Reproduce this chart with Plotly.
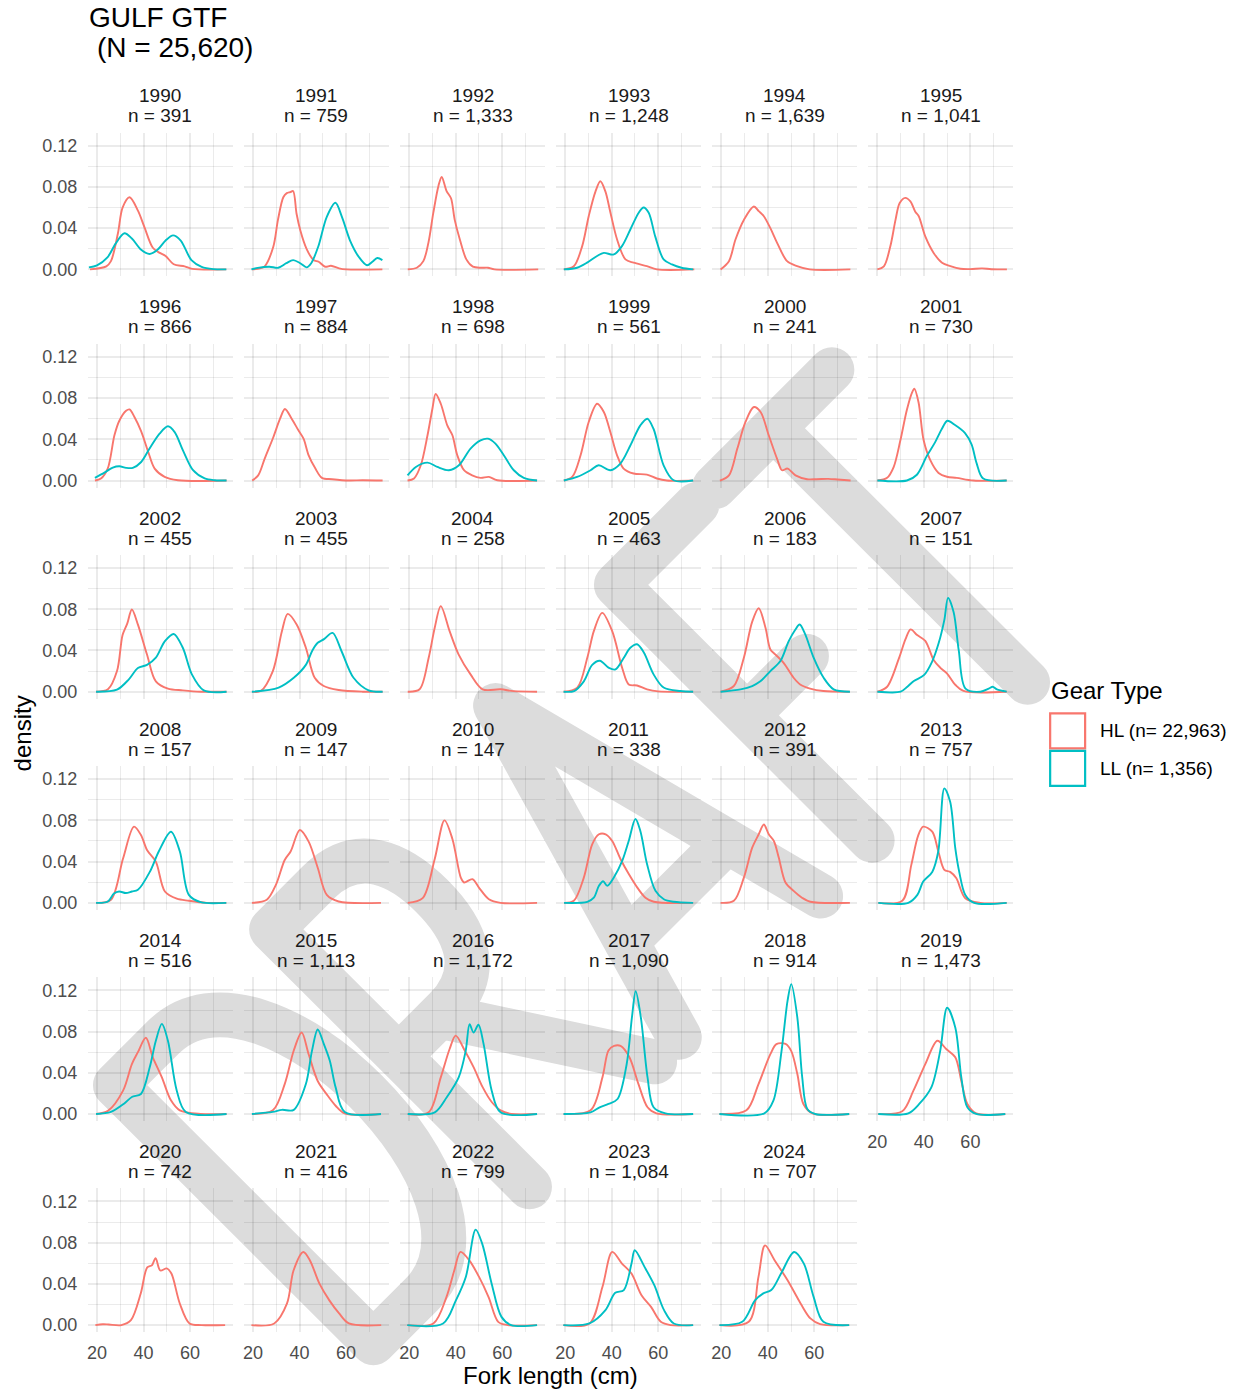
import base64
import plotly.graph_objects as go

# ---------------- data ----------------
YEARS = list(range(1990, 2025))
N_COUNTS = [391, 759, 1333, 1248, 1639, 1041, 866, 884, 698, 561, 241, 730,
            455, 455, 258, 463, 183, 151, 157, 147, 147, 338, 391, 757,
            516, 1113, 1172, 1090, 914, 1473, 742, 416, 799, 1084, 707]

GEAR_LABELS = ["HL (n= 22,963)", "LL (n= 1,356)"]
X_TICKS = [20, 40, 60]
Y_TICKS = [0.00, 0.04, 0.08, 0.12]

# density curves: (fork length cm, density)
HL_CURVES = {
    1990: [(17, 0), (24, 0.003), (26, 0.008), (29, 0.035), (31, 0.060), (34, 0.070), (37.6, 0.057), (40.4, 0.041), (44, 0.021), (47, 0.016), (49.5, 0.013), (53, 0.005), (57.7, 0.003), (61, 0.0005), (75.6, 0)],
    1991: [(19.5, 0), (23, 0.001), (25, 0.003), (28.7, 0.022), (30.7, 0.048), (33, 0.070), (34.5, 0.074), (36, 0.075), (37.2, 0.076), (38.7, 0.054), (40.3, 0.038), (43, 0.020), (46, 0.009), (48.2, 0.0074), (51, 0.0026), (53.5, 0.0035), (57, 0.001), (60, 0.0), (75.6, 0.0)],
    1992: [(19.4, 0), (23.3, 0.0016), (26.1, 0.008), (28.3, 0.026), (30.4, 0.055), (32.6, 0.081), (34, 0.0897), (36.1, 0.076), (38, 0.069), (39.6, 0.048), (41.8, 0.029), (44.6, 0.0097), (47.4, 0.0026), (51, 0.0016), (53.9, 0.0016), (56.7, 0), (75.5, 0)],
    1993: [(19.4, 0), (23.7, 0.003), (27.3, 0.0226), (30.1, 0.0516), (33, 0.0755), (35.1, 0.0855), (37.3, 0.0755), (39.4, 0.0555), (42.3, 0.029), (45.9, 0.0097), (49.4, 0.0065), (55.1, 0.0032), (59.4, 0), (75.5, 0)],
    1994: [(19.7, 0), (23.3, 0.008), (26.1, 0.029), (29.7, 0.048), (34, 0.061), (36.1, 0.0565), (38.3, 0.0516), (41.1, 0.040), (44, 0.0258), (48.3, 0.008), (52.6, 0.0032), (58, 0), (75.5, 0)],
    1995: [(20, 0), (22.8, 0.003), (25.6, 0.0226), (27.8, 0.048), (29.6, 0.0645), (32, 0.0694), (34.2, 0.066), (36.3, 0.056), (37.8, 0.0516), (40.6, 0.032), (44.2, 0.016), (47.8, 0.0065), (51.4, 0.0032), (55.7, 0.0006), (60, 0.0003), (65, 0.001), (69, 0.0002), (75.7, 0)],
    1996: [(19.1, 0), (21.7, 0.002), (24.6, 0.0116), (27.5, 0.0439), (29.6, 0.058), (32.5, 0.0677), (34, 0.069), (36.1, 0.0616), (39, 0.0477), (41.9, 0.0287), (44.8, 0.0116), (49.1, 0.0036), (54.8, 0.0003), (75.7, 0)],
    1997: [(19.6, 0), (22.2, 0.005), (25, 0.0213), (28.7, 0.042), (31.6, 0.060), (33.7, 0.0694), (36.6, 0.060), (39.5, 0.0487), (41.7, 0.0406), (43.9, 0.0245), (46.8, 0.0116), (49.6, 0.0026), (54, 0.0013), (61.3, 0), (67, 0.0003), (75.7, 0)],
    1998: [(19.3, 0), (22.1, 0.002), (25, 0.0148), (27.9, 0.0439), (30, 0.0697), (31.4, 0.084), (33.6, 0.0745), (36.4, 0.0535), (38.6, 0.0439), (40.7, 0.0245), (43.6, 0.010), (47.1, 0.005), (50.7, 0.0026), (54.3, 0.0035), (57.9, 0.0003), (75, 0)],
    1999: [(19.4, 0), (23, 0.0035), (26.6, 0.0245), (30.1, 0.0568), (33.7, 0.0745), (36.6, 0.0665), (39.4, 0.047), (42.3, 0.0245), (45.1, 0.0116), (49.4, 0.0068), (55.1, 0.0058), (59.4, 0.002), (63.7, 0), (75, 0)],
    2000: [(19.4, 0), (23.3, 0.005), (26.9, 0.031), (30.4, 0.0568), (34, 0.0713), (36.9, 0.0665), (40.4, 0.0439), (44, 0.021), (46.1, 0.010), (48.5, 0.0116), (51.9, 0.005), (56.9, 0.0013), (61, 0.0013), (66, 0.0016), (70, 0.001), (75.6, 0)],
    2001: [(20, 0), (24.2, 0.0026), (27, 0.013), (29.9, 0.039), (32.7, 0.0686), (34.9, 0.0853), (35.9, 0.089), (37.7, 0.076), (39.9, 0.039), (42.7, 0.020), (46.3, 0.0074), (49.9, 0.0037), (54.1, 0.0026), (61.3, 0), (75.6, 0)],
    2002: [(19.6, 0), (24.7, 0.0023), (28.6, 0.020), (31, 0.055), (33, 0.066), (35, 0.0797), (37.6, 0.065), (41.5, 0.036), (45.3, 0.010), (50.5, 0.003), (56.9, 0.0013), (64.6, 0), (75.7, 0)],
    2003: [(19.5, 0), (23.3, 0.0006), (28.5, 0.020), (32.4, 0.0587), (34.9, 0.0755), (38.8, 0.065), (42.7, 0.0426), (46.5, 0.0135), (50.4, 0.0055), (56.8, 0.0016), (67, 0), (75.7, 0)],
    2004: [(19.4, 0), (24.5, 0.0023), (28.4, 0.033), (31, 0.062), (33.6, 0.083), (37.4, 0.0587), (41.3, 0.036), (46.4, 0.0168), (51.6, 0.0023), (59.3, 0.0023), (65, 0.0005), (75, 0)],
    2005: [(19.3, 0), (25.2, 0.004), (29.5, 0.033), (32.3, 0.0587), (35.9, 0.0765), (40.2, 0.0587), (44.5, 0.023), (47.3, 0.007), (50.9, 0.006), (55.2, 0.0023), (60, 0.0003), (75, 0)],
    2006: [(19.7, 0), (25.4, 0.0055), (29.7, 0.033), (33.3, 0.068), (36.1, 0.081), (39, 0.062), (41.1, 0.041), (43.3, 0.036), (46.8, 0.028), (51.1, 0.0135), (53.9, 0.007), (58.2, 0.003), (63.9, 0.0006), (75.3, 0)],
    2007: [(20, 0), (24.2, 0.0048), (29.3, 0.0326), (32.1, 0.051), (34.3, 0.0604), (37.1, 0.0549), (40.6, 0.0493), (44.2, 0.0308), (47, 0.0234), (49.9, 0.0178), (53.5, 0.0067), (57, 0.0007), (75.6, 0)],
    2008: [(19.6, 0), (26, 0.003), (31.2, 0.043), (35.9, 0.0739), (38.9, 0.0658), (41.5, 0.0513), (45.3, 0.040), (49.2, 0.011), (54.3, 0.004), (59.5, 0.002), (67.2, 0), (75.6, 0)],
    2009: [(19.5, 0), (25.9, 0.003), (29.8, 0.0174), (33.6, 0.0416), (36.2, 0.050), (40.1, 0.0706), (43.9, 0.0594), (47.8, 0.034), (51.7, 0.0077), (56.8, 0.0013), (75, 0)],
    2010: [(19.4, 0), (25.8, 0.0045), (31, 0.0426), (35.2, 0.080), (38.6, 0.062), (42.2, 0.0245), (43.6, 0.0197), (47.2, 0.023), (50, 0.0148), (54.3, 0.0035), (59.3, 0), (75, 0)],
    2011: [(19.5, 0), (23.7, 0.002), (28, 0.0245), (31.6, 0.0568), (34.5, 0.0665), (37.4, 0.0665), (40.2, 0.060), (43.8, 0.0423), (47.4, 0.0277), (51, 0.0148), (54.5, 0.005), (58.1, 0.001), (75, 0)],
    2012: [(19.7, 0), (25.4, 0.002), (29.7, 0.0245), (33.3, 0.0535), (36.1, 0.0665), (38.3, 0.076), (40.4, 0.0665), (42.6, 0.060), (44.7, 0.0439), (47.6, 0.0197), (51.1, 0.0116), (54.7, 0.005), (58.3, 0.001), (75.3, 0)],
    2013: [(20.4, 0), (30.7, 0.002), (34.6, 0.0368), (37.5, 0.065), (39.7, 0.0739), (43.6, 0.069), (46.2, 0.050), (48.8, 0.032), (51.3, 0.030), (53.9, 0.024), (57.8, 0.0045), (64.2, 0), (75.6, 0)],
    2014: [(19.6, 0), (24.7, 0.003), (31.2, 0.0226), (35, 0.0484), (37.6, 0.060), (41, 0.0739), (44, 0.055), (47.9, 0.0355), (51.8, 0.0132), (55.6, 0.0035), (64.6, 0), (75.7, 0)],
    2015: [(19.5, 0), (28.5, 0.0035), (33.6, 0.029), (37.5, 0.0616), (40.9, 0.079), (43.9, 0.058), (47.8, 0.032), (51.7, 0.019), (55.5, 0.008), (59.4, 0.0006), (75, 0)],
    2016: [(19.4, 0), (28.4, 0.0016), (33.6, 0.0355), (37.4, 0.063), (40, 0.076), (43.9, 0.0616), (47.7, 0.0455), (51.6, 0.026), (55.5, 0.0116), (59.3, 0.0035), (64, 0), (75, 0)],
    2017: [(19.3, 0), (30.9, 0.0035), (36, 0.0355), (38.6, 0.0616), (41, 0.066), (43.8, 0.066), (47.6, 0.055), (51.5, 0.029), (55.4, 0.0065), (59.2, 0.0006), (75, 0)],
    2018: [(19.2, 0), (30.8, 0.0035), (36, 0.029), (41.1, 0.058), (43.7, 0.0677), (47.6, 0.068), (50.1, 0.061), (52.7, 0.0387), (55.3, 0.0097), (59.2, 0.0006), (75, 0)],
    2019: [(20.4, 0), (30.7, 0.0026), (35.5, 0.0226), (40.6, 0.0484), (45.8, 0.071), (49.6, 0.063), (53.5, 0.055), (56.1, 0.032), (58.7, 0.0097), (62.5, 0.0006), (75, 0)],
    2020: [(19.3, 0), (22.5, 0.0008), (25, 0.0006), (30.5, 0), (34.6, 0.0048), (38.8, 0.0306), (41.6, 0.056), (43.6, 0.058), (45.2, 0.065), (47.2, 0.053), (50, 0.055), (52, 0.050), (55.6, 0.021), (59.8, 0.0016), (65, 0), (75.1, 0)],
    2021: [(19.3, 0), (29.1, 0.0016), (34.6, 0.021), (37.4, 0.053), (41.6, 0.071), (44.4, 0.063), (48.6, 0.040), (52.8, 0.024), (57, 0.0113), (61.2, 0.0016), (75.1, 0)],
    2022: [(19.2, 0), (30.4, 0.0016), (36, 0.027), (39.4, 0.053), (42.1, 0.071), (45.8, 0.063), (50, 0.047), (54.2, 0.027), (58.3, 0.0032), (62.5, 0), (75, 0)],
    2023: [(19.2, 0), (30.4, 0.0016), (36, 0.037), (40.2, 0.071), (44.3, 0.060), (48.5, 0.050), (52.8, 0.029), (56.9, 0.0177), (61.1, 0.0032), (65.3, 0), (75, 0)],
    2024: [(19.2, 0), (31.8, 0.0032), (36, 0.047), (38.8, 0.0774), (42.9, 0.063), (48.5, 0.0435), (54.1, 0.021), (58.3, 0.0065), (62.5, 0.001), (75, 0)],
}

LL_CURVES = {
    1990: [(16.5, 0.002), (20, 0.004), (24.6, 0.012), (28, 0.025), (31.8, 0.035), (35, 0.030), (39, 0.019), (42.6, 0.015), (46, 0.019), (49.5, 0.028), (52.7, 0.033), (56, 0.028), (60.6, 0.009), (65, 0.0025), (70, 0.0003), (75.6, 0)],
    1991: [(19.3, 0), (22, 0.0015), (27, 0.0026), (30.8, 0.0016), (34.3, 0.006), (37.2, 0.009), (40.3, 0.006), (43, 0.002), (45, 0.006), (48, 0.022), (51.7, 0.051), (55.4, 0.0646), (58.2, 0.051), (61.7, 0.028), (65.5, 0.012), (69, 0.004), (71.3, 0.0074), (73.4, 0.011), (75.6, 0.009)],
    1993: [(19.4, 0), (25.1, 0.0016), (29.4, 0.0065), (33.7, 0.013), (36.6, 0.016), (40.9, 0.0145), (44.4, 0.0226), (48, 0.0387), (51.6, 0.055), (53.7, 0.060), (55.9, 0.055), (58.7, 0.032), (62.3, 0.0097), (65.9, 0.0048), (70, 0.0016), (75, 0)],
    1996: [(19.1, 0.0026), (23.2, 0.0077), (26.8, 0.0126), (29.6, 0.0139), (32.5, 0.0123), (35.4, 0.0123), (39, 0.018), (42.6, 0.031), (46.9, 0.0455), (50.5, 0.0526), (53.4, 0.047), (57, 0.029), (61.3, 0.010), (66.3, 0.002), (70.7, 0.0003), (75.7, 0)],
    1998: [(19.3, 0.005), (22.9, 0.0132), (27.9, 0.0174), (32.1, 0.0132), (37.1, 0.010), (41.4, 0.0148), (46.4, 0.031), (50.7, 0.039), (53.9, 0.0406), (57.1, 0.0358), (60.7, 0.0245), (65, 0.010), (69.3, 0.0026), (75, 0)],
    1999: [(19.4, 0), (25.1, 0.0035), (30.9, 0.010), (34.4, 0.0148), (39.4, 0.010), (43.7, 0.0165), (48, 0.034), (52.3, 0.0535), (55.3, 0.060), (58, 0.050), (62.3, 0.0148), (66.6, 0.0003), (75, 0)],
    2001: [(20, 0), (32.7, 0), (37, 0.0056), (41.3, 0.024), (44.8, 0.037), (47.7, 0.050), (50.1, 0.058), (53.4, 0.0538), (57.7, 0.046), (60.5, 0.035), (62.7, 0.0167), (65.5, 0.0019), (75.6, 0)],
    2002: [(19.6, 0), (28.6, 0.002), (33.7, 0.012), (37.6, 0.023), (41.5, 0.026), (45.3, 0.033), (49.2, 0.049), (53, 0.056), (56.9, 0.0426), (60.8, 0.0168), (65.9, 0.0013), (75.7, 0)],
    2003: [(19.5, 0), (31, 0.004), (37.5, 0.0135), (42.7, 0.026), (45.5, 0.040), (47.8, 0.0474), (50.5, 0.051), (54.2, 0.057), (58.1, 0.039), (63.2, 0.0135), (69.7, 0.0013), (75.7, 0)],
    2005: [(19.3, 0), (23.8, 0.0006), (28, 0.010), (31.6, 0.026), (34.9, 0.030), (38.8, 0.023), (41.6, 0.0216), (45.2, 0.033), (48, 0.0426), (50.9, 0.046), (53.8, 0.038), (58, 0.0168), (62.3, 0.004), (69.5, 0.0006), (75, 0)],
    2006: [(19.7, 0), (28.3, 0.0023), (33.3, 0.0055), (36.8, 0.010), (41.1, 0.020), (45.4, 0.0297), (49, 0.049), (51.8, 0.060), (53.7, 0.0652), (56.1, 0.0555), (59.7, 0.033), (64, 0.0135), (68.3, 0.0023), (75.3, 0)],
    2007: [(20, 0), (30, 0), (32.9, 0.0048), (35.7, 0.0104), (40, 0.016), (43.5, 0.029), (46.4, 0.0474), (48.8, 0.0697), (50.4, 0.091), (52.8, 0.077), (55, 0.040), (57.9, 0.003), (64.3, 0), (67.9, 0.003), (69.6, 0.0048), (71.4, 0.0022), (75.6, 0)],
    2008: [(19.6, 0), (24.7, 0.0013), (27.3, 0.009), (29.5, 0.011), (32.4, 0.0095), (35, 0.011), (37.6, 0.0126), (42.7, 0.030), (46.6, 0.050), (51.8, 0.069), (55.6, 0.050), (59.5, 0.0077), (64.6, 0.0006), (75.6, 0)],
    2011: [(19.5, 0), (29.5, 0.001), (32.3, 0.005), (34.5, 0.0165), (36.3, 0.021), (38.1, 0.0165), (40.9, 0.0245), (44.5, 0.0406), (47.3, 0.060), (50.2, 0.0813), (52.3, 0.0697), (55.2, 0.0374), (58.8, 0.0116), (62.4, 0.0035), (66.6, 0.001), (75, 0)],
    2013: [(20.4, 0), (33.3, 0), (37.2, 0.0077), (39.7, 0.0206), (43.6, 0.030), (46.2, 0.050), (48.8, 0.111), (51.3, 0.098), (53.5, 0.053), (55.2, 0.030), (57.8, 0.0077), (61.6, 0), (75.6, 0)],
    2014: [(19.6, 0), (26, 0.002), (31.6, 0.010), (35, 0.0165), (38.9, 0.0194), (42.7, 0.0455), (45.3, 0.071), (47.9, 0.0874), (50.5, 0.071), (54.3, 0.0226), (58.2, 0.002), (75.7, 0)],
    2015: [(19.5, 0), (28.5, 0.002), (32.4, 0.004), (37.5, 0.004), (42.7, 0.029), (45.3, 0.061), (47.8, 0.082), (50.4, 0.068), (53, 0.0516), (55.5, 0.0258), (59.4, 0.002), (75, 0)],
    2016: [(19.4, 0), (31, 0.0016), (36.1, 0.016), (41.3, 0.0355), (44.3, 0.061), (46, 0.087), (47.7, 0.079), (49.8, 0.0865), (52, 0.068), (55.5, 0.0226), (59.3, 0.0016), (75, 0)],
    2017: [(19.3, 0), (30.9, 0.0016), (34.8, 0.0065), (38.6, 0.0097), (42.5, 0.0145), (46.4, 0.048), (48.7, 0.094), (50.3, 0.119), (52.5, 0.094), (55.4, 0.0355), (58, 0.0065), (63.1, 0.0006), (75, 0)],
    2018: [(19.2, 0), (38.5, 0.0006), (42.4, 0.0129), (45.9, 0.061), (48.5, 0.110), (50.1, 0.126), (52.7, 0.0935), (54.8, 0.0355), (57, 0.0048), (60.4, 0), (75, 0)],
    2019: [(20.4, 0), (33.3, 0.0006), (38, 0.0097), (43.2, 0.0258), (47, 0.061), (50, 0.103), (53.5, 0.084), (56.1, 0.0355), (58.7, 0.0065), (62.5, 0), (75, 0)],
    2022: [(19.2, 0), (34.6, 0.0016), (40.1, 0.024), (44.4, 0.047), (48.6, 0.0926), (51.4, 0.079), (55.5, 0.040), (59.7, 0.008), (63.9, 0), (75, 0)],
    2023: [(19.2, 0), (30.4, 0.0016), (37.3, 0.0145), (41.5, 0.0313), (45.2, 0.034), (48.5, 0.0597), (49.9, 0.0726), (54.1, 0.0565), (58.3, 0.0387), (62.5, 0.0145), (66.7, 0.0016), (75, 0)],
    2024: [(19.2, 0), (29, 0.0032), (34.5, 0.024), (37.9, 0.0306), (41.5, 0.034), (45.7, 0.050), (51.3, 0.071), (55.5, 0.0597), (59.7, 0.0274), (63.9, 0.0032), (75, 0)],
}

# ---------------- layout geometry (pixels) ----------------
W, H = 1238, 1393
NCOL = 6
PANEL_W, PANEL_H = 145, 144
COL0, COL_PITCH = 87, 156.2
ROW0, ROW_PITCH = 133, 211.6
X_RANGE = [16.1, 78.4]
Y_RANGE = [-0.0068, 0.1326]

HL_COLOR = "#F8766D"
LL_COLOR = "#00BFC4"
GRID = "rgba(0,0,0,0.08)"
FONT = "Liberation Sans, Arial, sans-serif"


def px(x):
    return x / W


def py(y):
    return 1 - y / H


fig = go.Figure()
layout = dict(
    width=W, height=H, autosize=False,
    margin=dict(l=0, r=0, t=0, b=0),
    paper_bgcolor="white", plot_bgcolor="rgba(0,0,0,0)",
    showlegend=False,
    font=dict(family=FONT, color="#1a1a1a"),
)
annotations = []
shapes = []

n_panels = len(YEARS)
for i, year in enumerate(YEARS):
    r, c = divmod(i, NCOL)
    left = COL0 + c * COL_PITCH
    top = ROW0 + r * ROW_PITCH
    k = "" if i == 0 else str(i + 1)
    bottom_panel = (i + NCOL) >= n_panels
    layout["xaxis" + k] = dict(
        domain=[px(left), px(left + PANEL_W)], anchor="y" + k,
        range=X_RANGE, tickvals=X_TICKS, ticktext=[str(v) for v in X_TICKS],
        showticklabels=bottom_panel, ticks="outside", ticklen=4,
        tickcolor="rgba(0,0,0,0)",
        tickfont=dict(size=18, color="#4d4d4d", family=FONT),
        showgrid=True, gridcolor=GRID, gridwidth=1.8, zeroline=False,
        showline=False, fixedrange=True,
        minor=dict(tickvals=[30, 50, 70], showgrid=True, gridcolor=GRID, gridwidth=0.9),
    )
    layout["yaxis" + k] = dict(
        domain=[py(top + PANEL_H), py(top)], anchor="x" + k,
        range=Y_RANGE, tickvals=Y_TICKS, ticktext=["%.2f" % v for v in Y_TICKS],
        showticklabels=(c == 0), ticks="outside", ticklen=6,
        tickcolor="rgba(0,0,0,0)",
        tickfont=dict(size=18, color="#4d4d4d", family=FONT),
        showgrid=True, gridcolor=GRID, gridwidth=1.8, zeroline=False,
        showline=False, fixedrange=True,
        minor=dict(tickvals=[0.02, 0.06, 0.10], showgrid=True, gridcolor=GRID, gridwidth=0.9),
    )
    for curves, color in ((HL_CURVES, HL_COLOR), (LL_CURVES, LL_COLOR)):
        if year in curves:
            pts = curves[year]
            fig.add_trace(go.Scatter(
                x=[p[0] for p in pts], y=[p[1] for p in pts],
                xaxis="x" + k, yaxis="y" + k, mode="lines",
                line=dict(color=color, width=1.9, shape="spline", smoothing=0.9),
                hoverinfo="skip",
            ))
    cx = px(left + PANEL_W / 2)
    annotations.append(dict(text=str(year), x=cx, y=py(top - 37), xref="paper", yref="paper",
                            showarrow=False, xanchor="center", yanchor="middle",
                            font=dict(size=19, color="#1a1a1a", family=FONT)))
    annotations.append(dict(text="n = {:,}".format(N_COUNTS[i]), x=cx, y=py(top - 17),
                            xref="paper", yref="paper", showarrow=False,
                            xanchor="center", yanchor="middle",
                            font=dict(size=19, color="#1a1a1a", family=FONT)))

# titles
annotations += [
    dict(text="GULF GTF", x=px(86), y=py(18), xref="paper", yref="paper", showarrow=False,
         xanchor="left", yanchor="middle", font=dict(size=28, color="black", family=FONT)),
    dict(text="(N = 25,620)", x=px(94), y=py(48), xref="paper", yref="paper", showarrow=False,
         xanchor="left", yanchor="middle", font=dict(size=28, color="black", family=FONT)),
    dict(text="density", x=px(21), y=py(735), xref="paper", yref="paper", showarrow=False,
         textangle=-90, xanchor="center", yanchor="middle",
         font=dict(size=24, color="black", family=FONT)),
    dict(text="Fork length (cm)", x=px(550), y=py(1378), xref="paper", yref="paper",
         showarrow=False, xanchor="center", yanchor="middle",
         font=dict(size=24, color="black", family=FONT)),
    dict(text="Gear Type", x=px(1049), y=py(692), xref="paper", yref="paper", showarrow=False,
         xanchor="left", yanchor="middle", font=dict(size=24, color="black", family=FONT)),
]

# legend keys (boxes with coloured outline)
for j, (lab, col) in enumerate(zip(GEAR_LABELS, (HL_COLOR, LL_COLOR))):
    y0 = 715 + j * 37.5
    shapes.append(dict(type="rect", xref="paper", yref="paper",
                       x0=px(1050), x1=px(1085), y0=py(y0 + 35), y1=py(y0),
                       line=dict(color=col, width=2.2), fillcolor="white"))
    annotations.append(dict(text=lab, x=px(1098), y=py(y0 + 17.5), xref="paper", yref="paper",
                            showarrow=False, xanchor="left", yanchor="middle",
                            font=dict(size=19, color="black", family=FONT)))

# DRAFT watermark (stroked letters, rotated 45 degrees)
wm_paths = [
    "M -688 850 L -620 850 C -550 850 -515 940 -515 1032 C -515 1125 -550 1215 -620 1215 L -688 1215 Z",
    "M -467 1215 L -467 850 L -400 850 C -345 850 -330 895 -330 940 C -330 985 -345 1030 -400 1030 L -467 1030",
    "M -410 1030 L -290 1215",
    "M -255 1215 L -150 850 L -55 1215",
    "M -225 1110 L -85 1110",
    "M 21 1212 L 21 850 L 135 850",
    "M 21 1035 L 105 1035",
    "M 160 850 L 326 850",
    "M 243 850 L 243 1210",
]
svg = ('<svg xmlns="http://www.w3.org/2000/svg" width="%d" height="%d" viewBox="0 0 %d %d">'
       '<g transform="rotate(-45)" fill="none" stroke="#dcdcdc" stroke-width="45" '
       'stroke-linecap="round" stroke-linejoin="round"><path d="%s"/></g></svg>'
       % (W, H, W, H, " ".join(wm_paths)))
src = "data:image/svg+xml;base64," + base64.b64encode(svg.encode()).decode()
layout["images"] = [dict(source=src, xref="paper", yref="paper", x=0, y=1, sizex=1, sizey=1,
                         xanchor="left", yanchor="top", sizing="stretch", layer="below")]

layout["annotations"] = annotations
layout["shapes"] = shapes
fig.update_layout(**layout)
fig.write_html("out.html")
